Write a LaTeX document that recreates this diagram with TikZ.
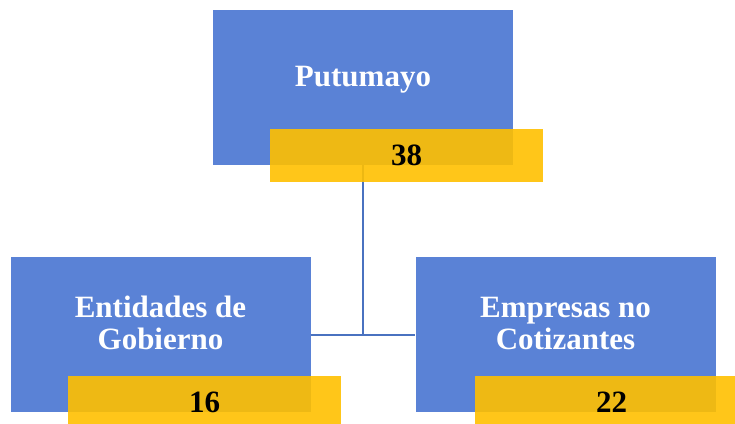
\documentclass[tikz,border=0pt]{standalone}
\usepackage{fontspec}
\setmainfont{Liberation Serif}
\usepackage{tikz}
\definecolor{BoxBlue}{HTML}{5A82D6}
\definecolor{TagGold}{HTML}{FFC000}
\definecolor{LinkBlue}{HTML}{4A72C0}

\begin{document}
\begin{tikzpicture}[x=1pt, y=-1pt,
  every node/.style={font=\fontsize{31}{32}\selectfont\bfseries},
  unit/.style={rectangle, fill=BoxBlue, text=white, align=center,
               minimum width=300pt, minimum height=155pt, inner sep=0pt,
               text depth=23pt},
  tag/.style={rectangle, fill=TagGold, fill opacity=0.9, text opacity=1,
              text=black, minimum width=273pt, minimum height=53pt, inner sep=0pt},
  link/.style={draw=LinkBlue, line width=2pt},
]
\clip (0,0) rectangle (735,423);
\node[unit] (put) at (363.0,  87.5) {Putumayo};
\node[unit] (ent) at (160.5, 334.5) {Entidades de\\Gobierno};
\node[unit] (emp) at (565.5, 334.5) {Empresas no\\Cotizantes};
\coordinate (hub) at (put.south |- ent.east);
\draw[link] (put.south) -- (hub);
\draw[link] (ent.east) -- (emp.west);
\node[tag] (putv) at (406.5, 155.5) {38};
\node[tag] (entv) at (204.5, 402.5) {16};
\node[tag] (empv) at (611.5, 402.5) {22};
\end{tikzpicture}
\end{document}
